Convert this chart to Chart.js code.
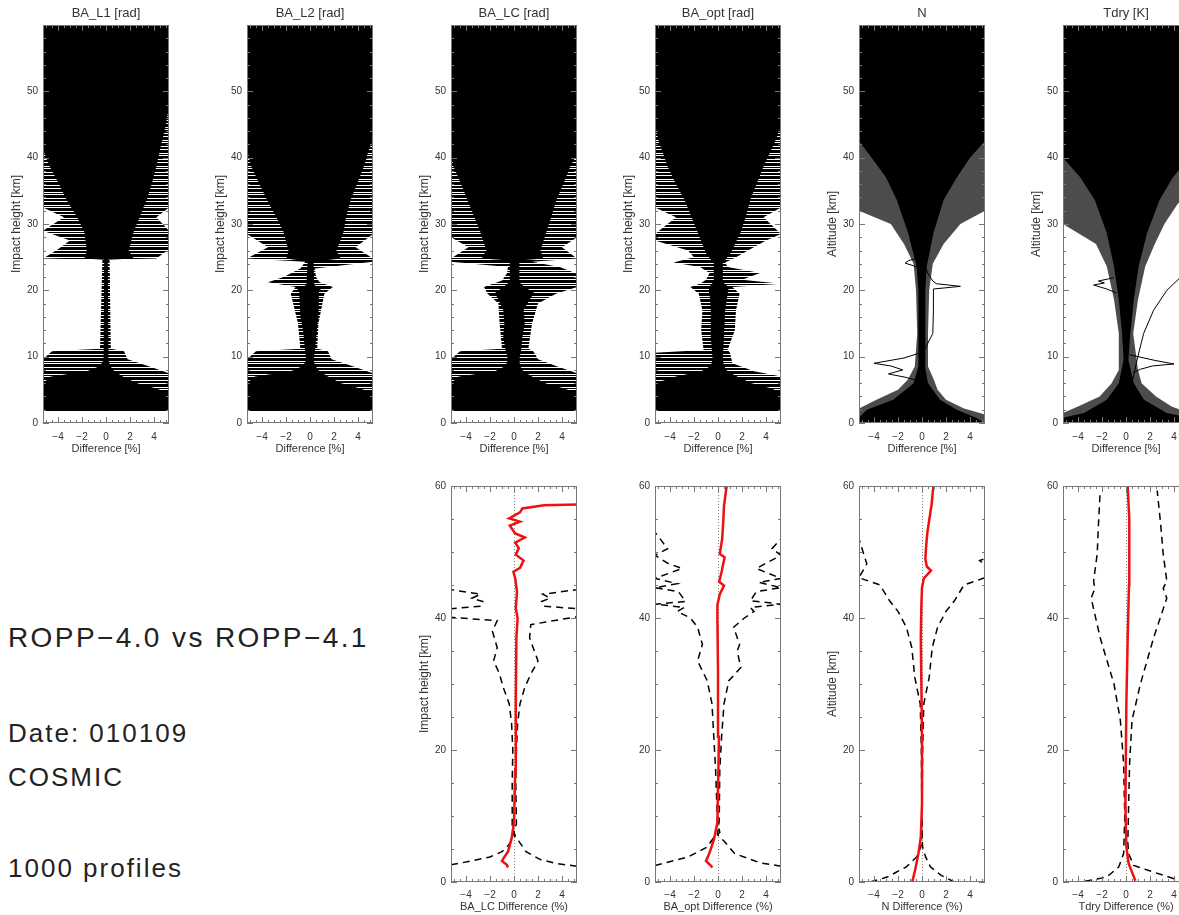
<!DOCTYPE html>
<html lang="en">
<head>
<meta charset="UTF-8">
<title>ROPP-4.0 vs ROPP-4.1</title>
<script src="https://cdn.jsdelivr.net/npm/chart.js"></script>
<style>
    body {
        margin: 0;
        width: 1179px;
        height: 915px;
        overflow: hidden;
        position: relative;
        background: #fff;
        font-family: 'Liberation Sans', Arial, sans-serif;
        color: #222;
    }
    canvas { position: absolute; }
    .note {
        position: absolute;
        left: 8px;
        line-height: 1;
        white-space: nowrap;
        letter-spacing: 2px;
    }
</style>
</head>
<body>
<div class="note" style="top:624px;font-size:28px;letter-spacing:2.4px">ROPP−4.0 vs ROPP−4.1</div>
<div class="note" style="top:720px;font-size:26px">Date: 010109</div>
<div class="note" style="top:764px;font-size:26px">COSMIC</div>
<div class="note" style="top:855px;font-size:26px">1000 profiles</div>

<script>
// top row: envelope of the 1000 profiles, [height km, left edge %, right edge %]
// core = solid black mass, halo = sparse streaks around it
const coreL1 = [[1.8,-5.25,5.25],[4.5,-5.25,5.25],[5.2,-5.25,4.2],[6,-5.25,2.6],[7,-4.6,1.4],[7.8,-1.6,0.7],[8.6,-0.5,0.35],[9.5,-0.2,0.2],[24.6,-0.15,0.15],[24.8,-1.8,2.3],[26,-1.6,1.9],[28.8,-1.8,2.3],[31,-2.4,2.8],[33.7,-3.3,3.4],[36,-3.9,3.8],[38.7,-4.7,4.2],[41.2,-5.25,4.5],[45,-5.25,5],[48,-5.25,5.25],[60,-5.25,5.25]];
const haloL1 = [[1.8,-5.25,5.25],[7.5,-5.25,5.25],[8.6,-5.25,3.5],[9.6,-5.25,1.8],[10.8,-4.5,1.5],[11.2,-0.5,0.4],[24.6,-0.3,0.3],[24.8,-5.25,4.2],[26.2,-4,5.25],[27.5,-3,5.25],[29,-5.25,5.25],[31,-3.5,4.2],[32.5,-5.25,5.25],[60,-5.25,5.25]];

const coreL2 = [[1.8,-5.25,5.25],[4.5,-5.25,5.25],[5.2,-5.25,4.2],[6,-5.25,2.6],[7,-4.6,1.5],[7.8,-1.6,0.8],[8.6,-0.6,0.45],[9.5,-0.3,0.3],[10.6,-0.4,0.4],[13.6,-0.55,0.55],[16,-0.8,0.7],[19.7,-0.9,0.75],[20.2,-1.05,0.9],[20.8,-0.3,0.35],[24.3,-0.2,0.3],[24.8,-1.95,2.55],[26,-1.8,2.2],[28.8,-2.2,2.8],[31,-2.8,3],[33.7,-3.6,3.4],[36,-4.2,3.9],[38.7,-4.9,4.5],[41.2,-5.25,4.9],[42.7,-5.25,5.25],[60,-5.25,5.25]];
const haloL2 = [[1.8,-5.25,5.25],[7.5,-5.25,5.25],[8.6,-5.25,3.5],[9.6,-5.25,1.8],[10.8,-4.5,1.5],[11.2,-0.8,0.6],[15,-1,0.7],[19.5,-1.6,1.2],[20.5,-1.2,1.9],[21.2,-3.5,0.8],[22,-2.2,0.5],[23.3,-0.8,0.4],[24.3,-0.4,5.25],[24.8,-5.25,5.25],[26.5,-3.5,3.8],[28.5,-5.25,5.25],[60,-5.25,5.25]];

const coreLC = [[1.8,-5.25,5.25],[4.5,-5.25,5.25],[5.2,-5.25,4.2],[6,-5.25,2.6],[7,-4.6,1.5],[7.8,-1.6,0.8],[8.6,-0.7,0.5],[9.6,-0.5,0.45],[11,-0.7,0.6],[13,-0.9,0.7],[15,-0.8,0.9],[17,-0.9,0.8],[18.6,-1.3,1.3],[19.6,-1.6,1.7],[20.6,-0.8,0.8],[21.2,-0.4,0.45],[24.5,-0.35,0.45],[24.8,-2.7,2.45],[26,-2.3,2.2],[28.8,-2.8,2.7],[31,-3.3,3.1],[33.7,-3.9,3.55],[36,-4.4,4.1],[38.7,-5.05,4.7],[40.5,-5.25,5.25],[60,-5.25,5.25]];
const haloLC = [[1.8,-5.25,5.25],[7.5,-5.25,5.25],[8.6,-5.25,3.5],[9.6,-5.25,2],[10.8,-4.5,1.6],[11.2,-1,1.2],[15,-1.2,1.5],[18,-1.3,2],[19.5,-2.2,3.5],[20.5,-2.5,5.25],[21.5,-1,5.25],[22.5,-0.6,5.25],[23.5,-0.5,3.8],[24.3,-5.25,1.5],[24.8,-5.25,5.25],[26.5,-3.8,4],[28,-5.25,5.25],[60,-5.25,5.25]];

const coreOpt = [[1.8,-5.25,5.25],[4.5,-5.25,5.25],[5.2,-5.25,4.5],[6,-5.25,2.8],[7,-3.5,1.6],[7.8,-1.4,0.8],[8.6,-0.6,0.5],[9.6,-0.45,0.4],[13,-0.6,0.5],[17,-0.6,0.6],[19.5,-0.7,0.8],[20.5,-0.75,0.9],[21.3,-0.35,0.35],[24.1,-0.35,0.4],[25.6,-1,1.05],[28.8,-1.7,1.9],[31,-2.2,2.3],[33.7,-2.8,2.7],[36,-3.5,3.2],[38.7,-4.2,3.8],[42.2,-4.9,4.7],[44.7,-5.25,5.25],[60,-5.25,5.25]];
const haloOpt = [[1.8,-5.25,5.25],[7,-5.25,5.25],[7.8,-5.25,3],[9,-5.25,1.2],[10.6,-5.25,1],[11,-1.2,0.8],[14,-1.4,1.4],[17,-1.3,1.5],[19.5,-1.6,1.8],[20.5,-2.3,1.2],[21,-1.5,5.25],[21.6,-1,2],[22.6,-0.7,3.5],[23.5,-1.5,0.8],[24.2,-3.7,0.6],[25,-2,1.5],[26,-2.5,2.5],[27.5,-5.25,4],[28.5,-5.25,5.25],[31,-3.5,3.8],[32.5,-5.25,5.25],[60,-5.25,5.25]];

const coreN = [[0,-5.25,5.25],[0.8,-5.25,4.5],[2,-4.6,2.9],[3.5,-2.4,1.5],[6,-0.7,0.5],[8.5,-0.3,0.25],[13.5,-0.3,0.25],[20,-0.3,0.3],[23.6,-0.45,0.4],[28.6,-1.15,0.95],[33.6,-2.1,1.8],[37,-3,2.9],[40,-4.2,4],[42.5,-5.25,5.25],[60,-5.25,5.25]];
const haloN = [[0,-5.25,5.25],[1.3,-5.25,5.25],[2.2,-5.25,3.5],[3.5,-3.8,2],[5,-2,1.3],[6.5,-1.2,1],[8.5,-0.6,0.5],[13.5,-0.4,0.5],[20,-0.5,0.6],[24,-0.7,0.9],[27,-1.5,1.8],[30,-2.6,3.2],[32,-5.25,5.25],[60,-5.25,5.25]];

const coreT = [[0,-5.25,5.25],[0.8,-5.25,5.25],[1.5,-3.5,3.4],[3.5,-1.6,1.5],[6,-0.6,0.65],[9.5,-0.2,0.2],[13.5,-0.33,0.36],[18.6,-0.6,0.65],[23.6,-1,1.05],[28.6,-1.6,1.75],[33.6,-2.6,2.8],[37,-3.8,3.9],[40,-5.25,5.25],[60,-5.25,5.25]];
const haloT = [[0,-5.25,5.25],[1.5,-5.25,5.25],[2.5,-4,3.8],[4,-2.2,2.5],[6,-1.2,1.3],[8,-0.6,1],[13.5,-0.6,0.6],[18.6,-1,1],[23.6,-1.6,1.6],[27,-2.5,2.4],[30,-5.25,3.2],[33,-5.25,4.3],[35,-5.25,5.25],[60,-5.25,5.25]];

// single stray profiles that stand out, [diff %, height km]
const nLoopA = [[0.2,11],[0.9,13.5],[0.95,17],[0.95,20.2],[3.2,20.6],[1.2,21],[0.9,21.4],[0.5,22.5],[0.2,24]];
const nLoopB = [[-0.1,23.3],[-0.7,23.7],[-1.4,24.1],[-1.1,24.5],[-0.3,24.8]];
const nLoopC = [[-0.1,10.6],[-1.5,9.8],[-4,9],[-2.6,8.6],[-1.6,8],[-2.8,7.4],[-1.4,6.9],[-0.4,6.4]];
const tCurve = [[0.5,6],[0.92,9.5],[1.47,13.5],[2.3,17],[3.4,20],[4.45,21.8],[5.25,22.6]];
const tLoopA = [[0.3,10.3],[1.5,9.8],[2.5,9.4],[4,8.9],[2.2,8.6],[1.2,8.1],[0.6,7.6]];
const tLoopB = [[-0.8,19.6],[-1.6,20.2],[-2.7,20.8],[-1.8,21.1],[-2.3,21.4],[-1,21.9]];

// bottom row: mean and mean -/+ std dev, [diff %, height km]
const meanLC = [[-0.5,2.2],[-0.6,2.6],[-1.0,3.2],[-0.8,3.8],[-0.5,4.6],[-0.2,6.6],[0,9],[0.1,17],[0.15,27],[0.2,37],[0.3,40],[0.15,41.5],[0.25,44],[0.1,46],[-0.05,47],[0.5,47.6],[0.8,48.7],[0.15,49.6],[0.4,50.6],[0.1,51.4],[0.9,52.2],[0.1,52.8],[-0.35,54],[0.5,54.6],[-0.4,55.1],[0.5,56],[0.7,56.6],[2.5,57.1],[5.25,57.2]];
const sdLoLC = [[-5.25,2.6],[-3.5,3.2],[-2,3.8],[-1,4.6],[-0.5,5.5],[0.1,7],[-0.15,8.5],[-0.15,15],[-0.1,20],[-0.2,24],[-0.4,27],[-0.9,29.5],[-1.2,31.5],[-1.7,33.5],[-1.4,35.5],[-1.8,38],[-1.4,39.6],[-5.25,40.1],[-5.25,41.4],[-2.7,41.8],[-2.6,42.5],[-3.5,43],[-2.8,43.6],[-5.25,44.3],[-5.25,47]];
const sdHiLC = [[5.25,2.4],[3.5,2.8],[2.2,3.4],[1,4.6],[0.4,6.2],[-0.1,7.3],[0.2,8.8],[0.15,15],[0.2,20],[0.3,24],[0.5,27],[0.9,29.5],[1.4,31.5],[2,33.5],[1.6,35.5],[1.3,37],[1.4,39],[5.25,40.2],[5.25,41.4],[2.5,41.8],[2.3,42.5],[3,43],[2.4,43.6],[5.25,44.3],[5.25,47]];

const meanOpt = [[-0.47,2.2],[-0.6,2.5],[-1.0,3.2],[-0.75,4.2],[-0.33,6.5],[-0.05,9],[0.08,22],[0,32],[-0.05,40],[-0.05,42],[0.15,43.6],[0.5,44.9],[0.1,45.5],[0.3,47],[0.55,49.2],[0.15,49.7],[0.35,52],[0.45,55],[0.5,57],[0.72,60]];
const sdLoOpt = [[-5.25,2.5],[-2.5,3.8],[-0.9,5.3],[-0.33,6.8],[0.15,7.5],[-0.05,9.3],[-0.2,17],[-0.35,22],[-0.5,27],[-0.9,30.5],[-1.7,33.5],[-1.3,36],[-1.7,38.6],[-2.3,40],[-3.4,41],[-2.8,41.6],[-5.25,42.1],[-2.7,42.5],[-3.3,44],[-5.25,44.6],[-3.4,45.2],[-5.25,46],[-3,47.5],[-4.2,48.3],[-5.25,49.5],[-4.2,50.5],[-5.25,53]];
const sdHiOpt = [[5.25,2.4],[3.5,2.9],[1.4,4.3],[0.5,6.2],[-0.05,7.2],[0.1,9.3],[0.15,17],[0.3,22],[0.5,27],[0.9,30.5],[1.9,32.5],[1.6,35],[1.8,36],[1.3,38.6],[2.2,40],[3,41],[2.7,41.6],[5.25,42.1],[2.7,42.6],[3.2,44],[5.25,44.6],[3.4,45.4],[5.25,46],[3.2,47.5],[4.2,48.5],[5.25,49.5],[4.5,50.5],[5.25,52]];

const meanN = [[-0.8,0.1],[-0.55,2],[-0.3,4.3],[-0.1,6.8],[0,11.8],[0,22],[-0.1,37],[-0.05,42],[0,44.6],[0.15,46],[0.75,47.2],[0.4,47.8],[0.28,49],[0.35,51],[0.45,53],[0.8,57.2],[0.95,60]];
const sdLoN = [[-4.3,0],[-2.9,0.75],[-1.3,2.3],[-0.45,3.8],[-0.1,5.3],[0,6.8],[-0.05,20],[-0.15,27],[-0.6,31],[-0.85,35.5],[-1.3,38.6],[-2,41],[-2.7,42.6],[-3.5,45],[-5.25,46.1],[-4.6,48.2],[-5.25,52]];
const sdHiN = [[2.7,0],[1.6,1],[0.7,2.3],[0.3,3.8],[0.05,5.3],[0,6.8],[0.05,20],[0.15,27],[0.6,31],[0.85,35.5],[1.3,38.6],[2,41],[2.7,42.6],[3.5,45],[5.25,46.1],[5.25,48],[4.8,48.7],[5.25,49]];

const meanT = [[0.78,0.2],[0.5,1.5],[0.22,2.8],[0.03,5.3],[-0.05,11.8],[0.03,27],[0.14,37],[0.25,45],[0.3,49.7],[0.25,55],[0.14,60]];
const sdLoT = [[-3.4,0.1],[-1.6,0.75],[-0.6,2.3],[-0.2,4.3],[-0.1,10],[-0.2,18],[-0.47,24.5],[-1.0,30],[-2.15,37],[-2.9,43],[-2.6,44.5],[-2.7,45.6],[-2.4,49.7],[-2.3,54],[-2.15,59.3]];
const sdHiT = [[4.0,0.5],[2.3,1.5],[0.64,2.5],[0.22,4.3],[0.15,6],[0.2,10],[0.3,18],[0.5,24.5],[1.2,30],[2.3,37],[3.4,43],[3.1,44.5],[3.4,45.6],[3.1,49.7],[2.9,54],[2.6,59.3]];

// labels
const xTicks = [-4, -2, 0, 2, 4];
const topYTicks = [0, 10, 20, 30, 40, 50];
const botYTicks = [0, 20, 40, 60];
const topTitles = ['BA_L1 [rad]', 'BA_L2 [rad]', 'BA_LC [rad]', 'BA_opt [rad]', 'N', 'Tdry [K]'];
const topYTitles = ['Impact height [km]', 'Impact height [km]', 'Impact height [km]', 'Impact height [km]', 'Altitude [km]', 'Altitude [km]'];
const botXTitles = ['BA_LC Difference (%)', 'BA_opt Difference (%)', 'N Difference (%)', 'Tdry Difference (%)'];
const botYTitles = ['Impact height [km]', '', 'Altitude [km]', ''];

// layout
const plotLeft = [43, 247, 451, 655, 859, 1063];
const FONT = "'Liberation Sans', Arial, sans-serif";
Chart.defaults.font.family = FONT;
Chart.defaults.color = '#333';

// horizontal streak fill for the sparse part of the bending angle clouds
const pc = document.createElement('canvas');
pc.width = 4; pc.height = 13;
const pctx = pc.getContext('2d');
pctx.fillStyle = '#000';
[0, 1, 2, 4, 5, 7, 8, 9, 11].forEach(r => pctx.fillRect(0, r, 4, 1));
const streaks = pctx.createPattern(pc, 'repeat');

// frame, inward ticks, zero line and panel title, IDL style
const idlFrame = {
    id: 'idlFrame',
    beforeDatasetsDraw(chart, args, opts) {
        if (!opts.zeroLine) return;
        const {ctx, chartArea: a, scales: {x}} = chart;
        const px = Math.round(x.getPixelForValue(0)) + 0.5;
        ctx.save();
        ctx.strokeStyle = '#888';
        ctx.lineWidth = 1;
        ctx.setLineDash([1, 2]);
        ctx.beginPath();
        ctx.moveTo(px, a.top);
        ctx.lineTo(px, a.bottom);
        ctx.stroke();
        ctx.restore();
    },
    afterDatasetsDraw(chart, args, opts) {
        const {ctx, chartArea: a, scales: {x, y}} = chart;
        ctx.save();
        ctx.strokeStyle = '#777';
        ctx.lineWidth = 1;
        ctx.strokeRect(Math.round(a.left) + 0.5, Math.round(a.top) + 0.5, Math.round(a.width) - 1, Math.round(a.height) - 1);
        ctx.beginPath();
        for (let v = -5; v <= 5.001; v += 0.5) {
            const px = Math.round(x.getPixelForValue(v)) + 0.5;
            const len = xTicks.includes(v) ? 6 : 3;
            ctx.moveTo(px, a.bottom); ctx.lineTo(px, a.bottom - len);
            ctx.moveTo(px, a.top); ctx.lineTo(px, a.top + len);
        }
        for (let v = 0; v <= 60; v += opts.yMinor) {
            const py = Math.round(y.getPixelForValue(v)) + 0.5;
            const len = v % opts.yMajor === 0 ? 6 : 3;
            ctx.moveTo(a.left, py); ctx.lineTo(a.left + len, py);
            ctx.moveTo(a.right, py); ctx.lineTo(a.right - len, py);
        }
        ctx.stroke();
        if (opts.title) {
            ctx.fillStyle = '#333';
            ctx.font = '13px ' + FONT;
            ctx.textAlign = 'center';
            ctx.textBaseline = 'middle';
            ctx.fillText(opts.title, (a.left + a.right) / 2, a.top - 12);
        }
        ctx.restore();
    }
};

function edge(rows, col, color, order) {
    return {
        data: rows.map(r => ({x: r[col], y: r[0]})),
        fill: 'origin',
        backgroundColor: color,
        borderColor: 'rgba(0,0,0,0)',
        borderWidth: 0,
        pointRadius: 0,
        order: order
    };
}

function trace(pts, color, width, dash, order) {
    return {
        data: pts.map(p => ({x: p[0], y: p[1]})),
        fill: false,
        borderColor: color,
        borderWidth: width,
        borderDash: dash || [],
        pointRadius: 0,
        order: order
    };
}

function cloud(core, halo, haloColor, extra) {
    const sets = (extra || []).map(p => trace(p, '#000', 1, null, 0));
    return sets.concat([
        edge(core, 1, '#000', 1), edge(core, 2, '#000', 1),
        edge(halo, 1, haloColor, 2), edge(halo, 2, haloColor, 2)
    ]);
}

function stats(mean, lo, hi) {
    return [
        trace(mean, '#f01010', 2.5, null, 0),
        trace(lo, '#000', 1.5, [7, 5], 1),
        trace(hi, '#000', 1.5, [7, 5], 1)
    ];
}

const fmt = v => (v < 0 ? '\u2212' + Math.abs(v) : String(v));

function panel(o) {
    const cv = document.createElement('canvas');
    cv.width = 181;
    cv.height = o.height;
    cv.style.left = (o.left - 43) + 'px';
    cv.style.top = o.top + 'px';
    document.body.appendChild(cv);
    return new Chart(cv, {
        type: 'line',
        data: { datasets: o.datasets },
        options: {
            indexAxis: 'y',
            responsive: false,
            animation: false,
            events: [],
            layout: { padding: { top: o.padTop, right: 12, left: 0, bottom: 0 } },
            elements: { line: { tension: 0 } },
            plugins: {
                legend: { display: false },
                tooltip: { enabled: false },
                idlFrame: { title: o.title, yMinor: o.yMinor, yMajor: o.yMajor, zeroLine: o.zeroLine }
            },
            scales: {
                x: {
                    type: 'linear', min: -5.25, max: 5.25,
                    grid: { display: false, drawTicks: false },
                    border: { display: false },
                    afterBuildTicks: s => { s.ticks = xTicks.map(v => ({value: v})); },
                    afterFit: s => { s.height = o.xHeight; },
                    ticks: { padding: o.xPad, font: { size: 10 }, color: '#333', callback: v => fmt(v) },
                    title: { display: true, text: o.xTitle, font: { size: 11 }, color: '#333', padding: { top: 0, bottom: 1 } }
                },
                y: {
                    type: 'linear', min: 0, max: 60,
                    grid: { display: false, drawTicks: false },
                    border: { display: false },
                    afterBuildTicks: s => { s.ticks = o.yTicks.map(v => ({value: v})); },
                    afterFit: s => { s.width = 43; },
                    ticks: { padding: 5, font: { size: 10 }, color: '#333' },
                    title: { display: !!o.yTitle, text: o.yTitle, font: { size: 12 }, color: '#333', padding: { top: 9, bottom: 0 } }
                }
            }
        },
        plugins: [idlFrame]
    });
}

window.onload = function() {
    const topSets = [
        cloud(coreL1, haloL1, streaks),
        cloud(coreL2, haloL2, streaks),
        cloud(coreLC, haloLC, streaks),
        cloud(coreOpt, haloOpt, streaks),
        cloud(coreN, haloN, 'rgba(0,0,0,0.7)', [nLoopA, nLoopB, nLoopC]),
        cloud(coreT, haloT, 'rgba(0,0,0,0.7)', [tCurve, tLoopA, tLoopB])
    ];
    topSets.forEach((sets, i) => panel({
        left: plotLeft[i], top: 0, height: 457, padTop: 25, xHeight: 34, xPad: 8,
        datasets: sets, title: topTitles[i], xTitle: 'Difference [%]',
        yTitle: topYTitles[i], yTicks: topYTicks, yMinor: 2, yMajor: 10
    }));

    const botSets = [
        stats(meanLC, sdLoLC, sdHiLC),
        stats(meanOpt, sdLoOpt, sdHiOpt),
        stats(meanN, sdLoN, sdHiN),
        stats(meanT, sdLoT, sdHiT)
    ];
    botSets.forEach((sets, i) => panel({
        left: plotLeft[i + 2], top: 475, height: 440, padTop: 10, xHeight: 33, xPad: 7,
        datasets: sets, title: '', xTitle: botXTitles[i],
        yTitle: botYTitles[i], yTicks: botYTicks, yMinor: 5, yMajor: 20, zeroLine: true
    }));
};
</script>
</body>
</html>
